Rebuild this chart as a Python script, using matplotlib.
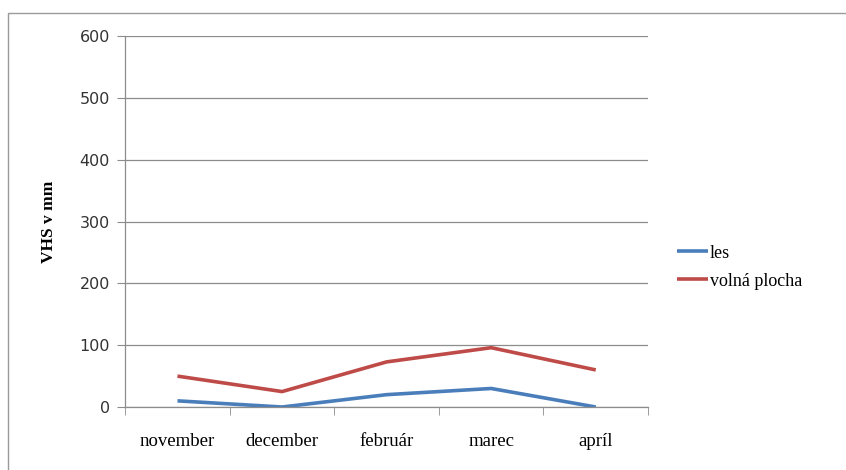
import matplotlib.pyplot as plt
from matplotlib.patches import Rectangle
from matplotlib.ticker import FixedLocator

# mesiace a hodnoty VHS (mm)
mesiace = ["november", "december", "február", "marec", "apríl"]
les = [10, 0, 20, 30, 0]
volna_plocha = [50, 25, 73, 96, 60]

fig = plt.figure(figsize=(8.46, 4.70), dpi=100)
ax = fig.add_axes([0.148, 0.134, 0.618, 0.789])

# ramcek okolo celeho grafu
fig.patches.append(Rectangle((8 / 846, 0 - 0.01), 1.0, 1 - 13 / 470 + 0.01,
                             transform=fig.transFigure, fill=False,
                             edgecolor="#9a9a9a", linewidth=1.0))

x = list(range(len(mesiace)))
ax.plot(x, les, color="#4A7EBB", linewidth=2.6, label="les", solid_capstyle="butt")
ax.plot(x, volna_plocha, color="#BE4B48", linewidth=2.6, label="volná plocha",
        solid_capstyle="butt")

ax.set_xlim(-0.5, len(mesiace) - 0.5)
ax.set_ylim(0, 600)
ax.set_yticks(range(0, 601, 100))
ax.yaxis.grid(True, color="#8c8c8c", linewidth=0.9)
ax.set_axisbelow(True)

ax.set_xticks(x)
ax.set_xticklabels(mesiace, family="Liberation Serif", fontsize=13.5)
ax.tick_params(axis="x", which="major", length=0, pad=19)
ax.xaxis.set_minor_locator(FixedLocator([i - 0.5 for i in range(len(mesiace) + 1)]))
ax.tick_params(axis="x", which="minor", length=6, color="#8c8c8c", direction="out")
ax.tick_params(axis="y", length=6, color="#8c8c8c", direction="out", pad=5,
               labelsize=11.5, labelcolor="#333333")

for s in ["top", "right"]:
    ax.spines[s].set_visible(False)
for s in ["left", "bottom"]:
    ax.spines[s].set_color("#8c8c8c")
    ax.spines[s].set_linewidth(0.9)

ax.set_ylabel("VHS v mm", family="Liberation Serif", fontsize=12.5, fontweight="bold",
              labelpad=16)

leg = ax.legend(loc="center left", bbox_to_anchor=(1.025, 0.377), frameon=False,
                prop={"family": "Liberation Serif", "size": 13},
                handlelength=1.7, handletextpad=0.1, labelspacing=0.6)

fig.savefig("out.png", dpi=100)
